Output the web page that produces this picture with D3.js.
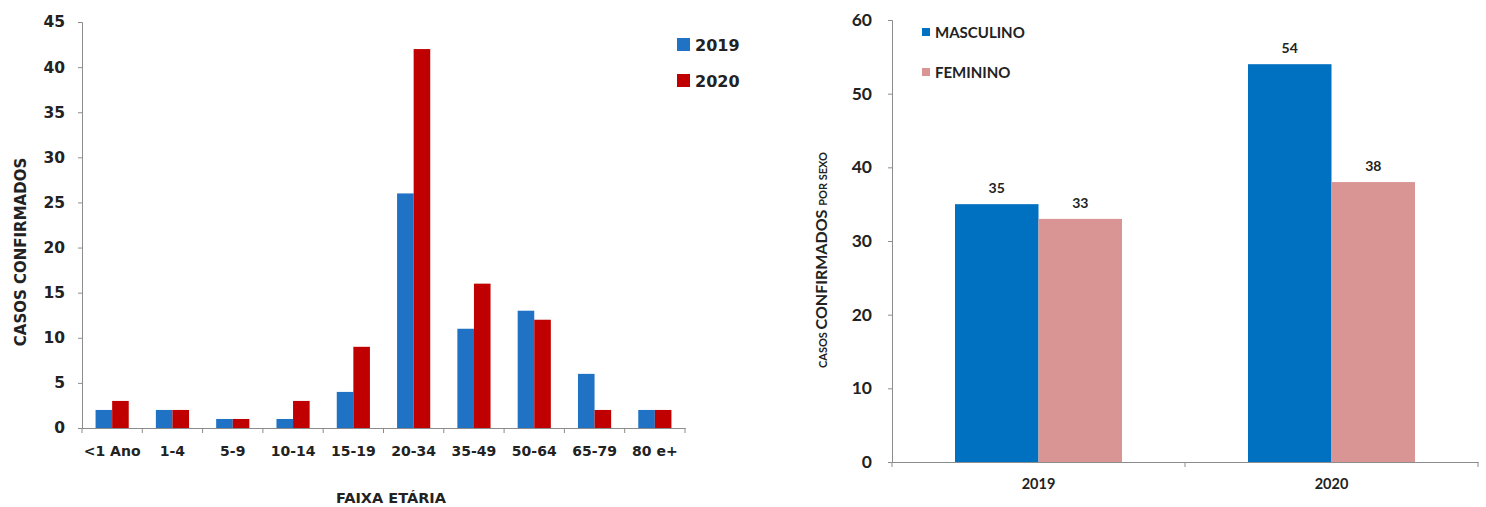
<!DOCTYPE html>
<html>
<head>
<meta charset="utf-8">
<script src="https://cdn.jsdelivr.net/npm/d3@7"></script>
<style>
  html, body { margin: 0; padding: 0; background: #fff; }
  svg { display: block; }
  text { font-weight: bold; fill: #222; }
  .wide text, text.wide { font-family: "DejaVu Sans", Verdana, sans-serif; }
  .narrow text, text.narrow { font-family: Lato, "Open Sans", sans-serif; }
</style>
</head>
<body>
<svg id="chart" width="1486" height="507"></svg>
<script>
// Casos confirmados por faixa etária
const faixas = ["<1 Ano", "1-4", "5-9", "10-14", "15-19", "20-34", "35-49", "50-64", "65-79", "80 e+"];
const anos = ["2019", "2020"];
const casos2019 = [2, 2, 1, 1, 4, 26, 11, 13, 6, 2];
const casos2020 = [3, 2, 1, 3, 9, 42, 16, 12, 2, 2];
const ticksFaixa = [0, 5, 10, 15, 20, 25, 30, 35, 40, 45];

// Casos confirmados por sexo
const sexos = ["MASCULINO", "FEMININO"];
const masculino = [35, 54];
const feminino = [33, 38];
const ticksSexo = [0, 10, 20, 30, 40, 50, 60];

const svg = d3.select("#chart");
const axisColor = "#8c8c8c";

function styleAxis(g) {
  g.selectAll(".domain").attr("stroke", axisColor);
  g.selectAll(".tick line").attr("stroke", axisColor);
}

// ---------- Gráfico 1: faixa etária ----------
{
  const root = svg.append("g").attr("class", "wide");
  const left = 82, right = 685, top = 22, bottom = 428;
  const colors = { "2019": "#1f72c4", "2020": "#c00000" };
  const rows = faixas.map((f, i) => ({ faixa: f, "2019": casos2019[i], "2020": casos2020[i] }));

  const x = d3.scaleBand().domain(faixas).range([left, right]);
  const bw = x.bandwidth();
  const groupW = bw * 0.55;
  const x1 = d3.scaleBand().domain(anos).range([(bw - groupW) / 2, (bw + groupW) / 2]);
  const y = d3.scaleLinear().domain([0, 45]).range([bottom, top]);

  const gy = root.append("g").attr("transform", `translate(${left},0)`)
    .call(d3.axisLeft(y).tickValues(ticksFaixa).tickSize(4).tickPadding(13).tickSizeOuter(4));
  styleAxis(gy);
  gy.selectAll("text").attr("font-size", 15.5).attr("fill", "#222");

  const groups = root.append("g").selectAll("g").data(rows).join("g")
    .attr("transform", d => `translate(${x(d.faixa)},0)`);
  groups.selectAll("rect").data(d => anos.map(a => ({ ano: a, v: d[a] }))).join("rect")
    .attr("x", d => x1(d.ano))
    .attr("width", x1.bandwidth())
    .attr("y", d => y(d.v))
    .attr("height", d => bottom - y(d.v))
    .attr("fill", d => colors[d.ano]);

  const gx = root.append("g").attr("transform", `translate(0,${bottom})`)
    .call(d3.axisBottom(x).tickSize(0).tickPadding(18));
  styleAxis(gx);
  gx.selectAll("text").attr("font-size", 14).attr("fill", "#222");
  // divisões entre categorias
  gx.selectAll(".sep").data(d3.range(faixas.length + 1)).join("line")
    .attr("class", "sep")
    .attr("x1", i => left + i * bw).attr("x2", i => left + i * bw)
    .attr("y1", 0).attr("y2", 5)
    .attr("stroke", axisColor);

  root.append("text")
    .attr("transform", `translate(26,252) rotate(-90)`)
    .attr("text-anchor", "middle").attr("font-size", 15)
    .text("CASOS CONFIRMADOS");

  root.append("text")
    .attr("x", 391).attr("y", 503)
    .attr("text-anchor", "middle").attr("font-size", 14.5)
    .text("FAIXA ETÁRIA");

  const leg = root.append("g").selectAll("g").data(anos).join("g")
    .attr("transform", (d, i) => `translate(677,${38 + i * 36})`);
  leg.append("rect").attr("width", 13).attr("height", 13).attr("fill", d => colors[d]);
  leg.append("text").attr("x", 18).attr("y", 13).attr("font-size", 16).text(d => d);
}

// ---------- Gráfico 2: sexo ----------
{
  const root = svg.append("g").attr("class", "narrow");
  const left = 892, right = 1478, top = 20, bottom = 462;
  const colors = { "MASCULINO": "#0070c0", "FEMININO": "#d99594" };
  const rows = anos.map((a, i) => ({ ano: a, "MASCULINO": masculino[i], "FEMININO": feminino[i] }));

  const x = d3.scaleBand().domain(anos).range([left, right]);
  const bw = x.bandwidth();
  const groupW = bw * 0.57;
  const x1 = d3.scaleBand().domain(sexos).range([(bw - groupW) / 2, (bw + groupW) / 2]);
  const y = d3.scaleLinear().domain([0, 60]).range([bottom, top]);

  const gy = root.append("g").attr("transform", `translate(${left},0)`)
    .call(d3.axisLeft(y).tickValues(ticksSexo).tickSize(4).tickPadding(16).tickSizeOuter(4));
  styleAxis(gy);
  gy.selectAll("text").attr("font-size", 17.5).attr("fill", "#222");

  const groups = root.append("g").selectAll("g").data(rows).join("g")
    .attr("transform", d => `translate(${x(d.ano)},0)`);
  const bars = groups.selectAll("g").data(d => sexos.map(s => ({ sexo: s, v: d[s] }))).join("g");
  bars.append("rect")
    .attr("x", d => x1(d.sexo))
    .attr("width", x1.bandwidth())
    .attr("y", d => y(d.v))
    .attr("height", d => bottom - y(d.v))
    .attr("fill", d => colors[d.sexo]);
  bars.append("text")
    .attr("x", d => x1(d.sexo) + x1.bandwidth() / 2)
    .attr("y", d => y(d.v) - 11)
    .attr("text-anchor", "middle").attr("font-size", 14)
    .text(d => d.v);

  const gx = root.append("g").attr("transform", `translate(0,${bottom})`)
    .call(d3.axisBottom(x).tickSize(0).tickPadding(17));
  styleAxis(gx);
  gx.selectAll("text").attr("font-size", 14.5).attr("fill", "#222");
  gx.selectAll(".sep").data(d3.range(anos.length + 1)).join("line")
    .attr("class", "sep")
    .attr("x1", i => left + i * bw).attr("x2", i => left + i * bw)
    .attr("y1", 0).attr("y2", 5)
    .attr("stroke", axisColor);

  const yl = root.append("text")
    .attr("transform", `translate(827,260) rotate(-90)`)
    .attr("text-anchor", "middle");
  yl.append("tspan").attr("font-size", 11).text("CASOS ");
  yl.append("tspan").attr("font-size", 16).text("CONFIRMADOS ");
  yl.append("tspan").attr("font-size", 11).text("POR SEXO");

  const leg = root.append("g").selectAll("g").data(sexos).join("g")
    .attr("transform", (d, i) => `translate(922,${28 + i * 40})`);
  leg.append("rect").attr("width", 8).attr("height", 8).attr("fill", d => colors[d]);
  leg.append("text").attr("x", 13).attr("y", 10).attr("font-size", 15).text(d => d);
}
</script>
</body>
</html>
